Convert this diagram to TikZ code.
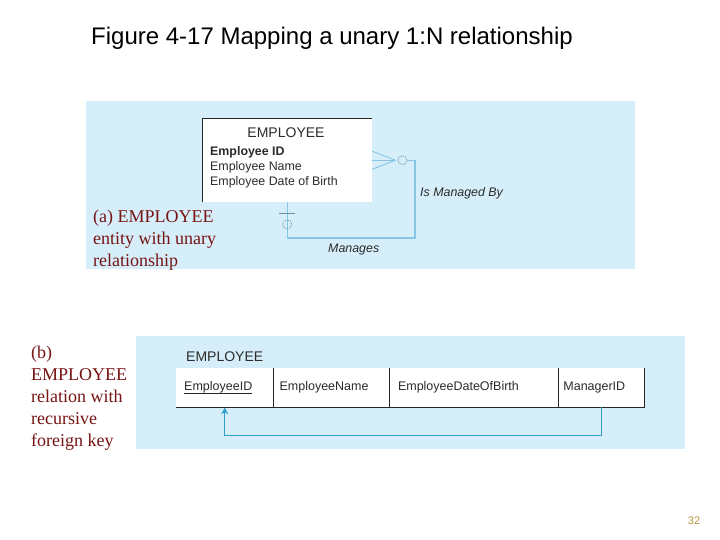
\documentclass[tikz,border=0pt]{standalone}
\usepackage{fontspec}
\setmainfont{Liberation Serif}
\setsansfont{Liberation Sans}
\usetikzlibrary{arrows.meta,positioning}
\definecolor{panel}{HTML}{D5EEF9}
\definecolor{relline}{HTML}{86C6E4}
\definecolor{optline}{HTML}{6A8FA6}
\definecolor{fkline}{HTML}{2E9FC6}
\definecolor{caption}{HTML}{761414}
\definecolor{ink}{HTML}{2B2B2B}
\definecolor{pagenum}{HTML}{B8963C}
\tikzset{
  panelBox/.style={fill=panel, draw=none},
  entBox/.style={fill=white, draw=none, anchor=north west, inner sep=0pt,
    minimum width=170pt, minimum height=84pt},
  entTitle/.style={text=ink, font=\sffamily\fontsize{14}{16}\selectfont},
  attr/.style={text=ink, font=\sffamily\fontsize{12.4}{15}\selectfont, anchor=west, inner sep=0pt},
  relLab/.style={text=ink, font=\sffamily\itshape\fontsize{12.4}{15}\selectfont, anchor=west, inner sep=0pt},
  relSeg/.style={draw=relline, line width=1.3pt},
  crowSeg/.style={draw=relline, line width=0.9pt},
  optCirc/.style={draw=optline, line width=0.6pt, dash pattern=on 1.5pt off 1pt},
  barSeg/.style={draw=optline, line width=0.7pt},
  capText/.style={text=caption, font=\fontsize{18}{22}\selectfont, align=left,
    anchor=north west, inner sep=0pt},
  cell/.style={fill=white, draw=none, anchor=north west, inner sep=0pt, minimum height=39pt},
  cellText/.style={text=ink, font=\sffamily\fontsize{12.5}{15}\selectfont, anchor=west, inner sep=0pt},
  cellLine/.style={draw=black!85, line width=0.8pt},
  fkSeg/.style={draw=fkline, line width=1pt}
}

\begin{document}
\begin{tikzpicture}[x=1pt, y=-1pt]
  \useasboundingbox (0,0) rectangle (720,540);

  % title
  \node[anchor=west, inner sep=0pt, font=\sffamily\fontsize{24}{28}\selectfont] (title) at (91,38)
    {Figure 4-17 Mapping a unary 1:N relationship};

  % panels
  \fill[panelBox] (86,101) rectangle (635,269);
  \fill[panelBox] (136,336) rectangle (685,449);

  % (a) entity
  \node[entBox] (emp) at (202,118) {};
  \draw[cellLine, line width=0.7pt] (emp.south west) -- (emp.north west) -- (emp.north east);
  \node[entTitle] (empName) at (286,133) {EMPLOYEE};
  \node[attr, font=\sffamily\bfseries\fontsize{12.4}{15}\selectfont] (attrId) at (210,152) {Employee ID};
  \node[attr] (attrName) at (210,167) {Employee Name};
  \node[attr] (attrDob) at (210,182) {Employee Date of Birth};

  % (a) unary relationship
  \coordinate (apex) at ([xshift=23pt]emp.east);
  \coordinate (loopCorner) at (415,238);
  \draw[crowSeg] ([yshift=9pt]emp.east) -- (apex) -- ([yshift=-9pt]emp.east);
  \draw[crowSeg] (emp.east) -- (apex);
  \draw[optCirc] ([xshift=7pt]apex) circle (4.5pt);
  \draw[relSeg] ([xshift=11.5pt]apex) -| (loopCorner) -| (emp.south);
  \draw[barSeg] ([xshift=-8pt,yshift=-11pt]emp.south) -- ([xshift=8pt,yshift=-11pt]emp.south);
  \draw[optCirc] ([yshift=-22pt]emp.south) circle (4.5pt);
  \node[relLab] (labBy) at (420,193) {Is Managed By};
  \node[relLab] (labMg) at (328,250) {Manages};

  % captions
  \node[capText] (capA) at (93,209.5) {(a) EMPLOYEE\\entity with unary\\relationship};
  \node[capText] (capB) at (31,345.5) {(b)\\EMPLOYEE\\relation with\\recursive\\foreign key};

  % (b) relation
  \node[anchor=west, inner sep=0pt, text=ink, font=\sffamily\fontsize{14}{16}\selectfont] (relName) at (186,357) {EMPLOYEE};
  \node[cell, minimum width=97pt] (c1) at (176,368) {};
  \node[cell, minimum width=116pt, right=0pt of c1] (c2) {};
  \node[cell, minimum width=168pt, right=0pt of c2] (c3) {};
  \node[cell, minimum width=86pt, right=0pt of c3] (c4) {};
  \draw[cellLine] (c1.south west) -- (c4.south east) -- (c4.north east);
  \draw[cellLine] (c1.north east) -- (c1.south east);
  \draw[cellLine] (c2.north east) -- (c2.south east);
  \draw[cellLine] (c3.north east) -- (c3.south east);
  \node[cellText] (t1) at ([xshift=8pt]c1.west) {EmployeeID};
  \node[cellText] (t2) at ([xshift=6pt]c2.west) {EmployeeName};
  \node[cellText] (t3) at ([xshift=8pt]c3.west) {EmployeeDateOfBirth};
  \node[cellText] (t4) at ([xshift=5pt]c4.west) {ManagerID};
  \draw[black!85, line width=0.7pt] ([yshift=-2.5pt]t1.base west) -- ([yshift=-2.5pt]t1.base east);

  % foreign key
  \draw[fkSeg, -{Stealth[length=7pt, width=7pt]}] (c4.south) -- ++(0,28) -| (c1.south);

  % page number
  \node[text=pagenum, font=\sffamily\fontsize{11}{13}\selectfont] (page) at (694,521) {32};
\end{tikzpicture}
\end{document}
